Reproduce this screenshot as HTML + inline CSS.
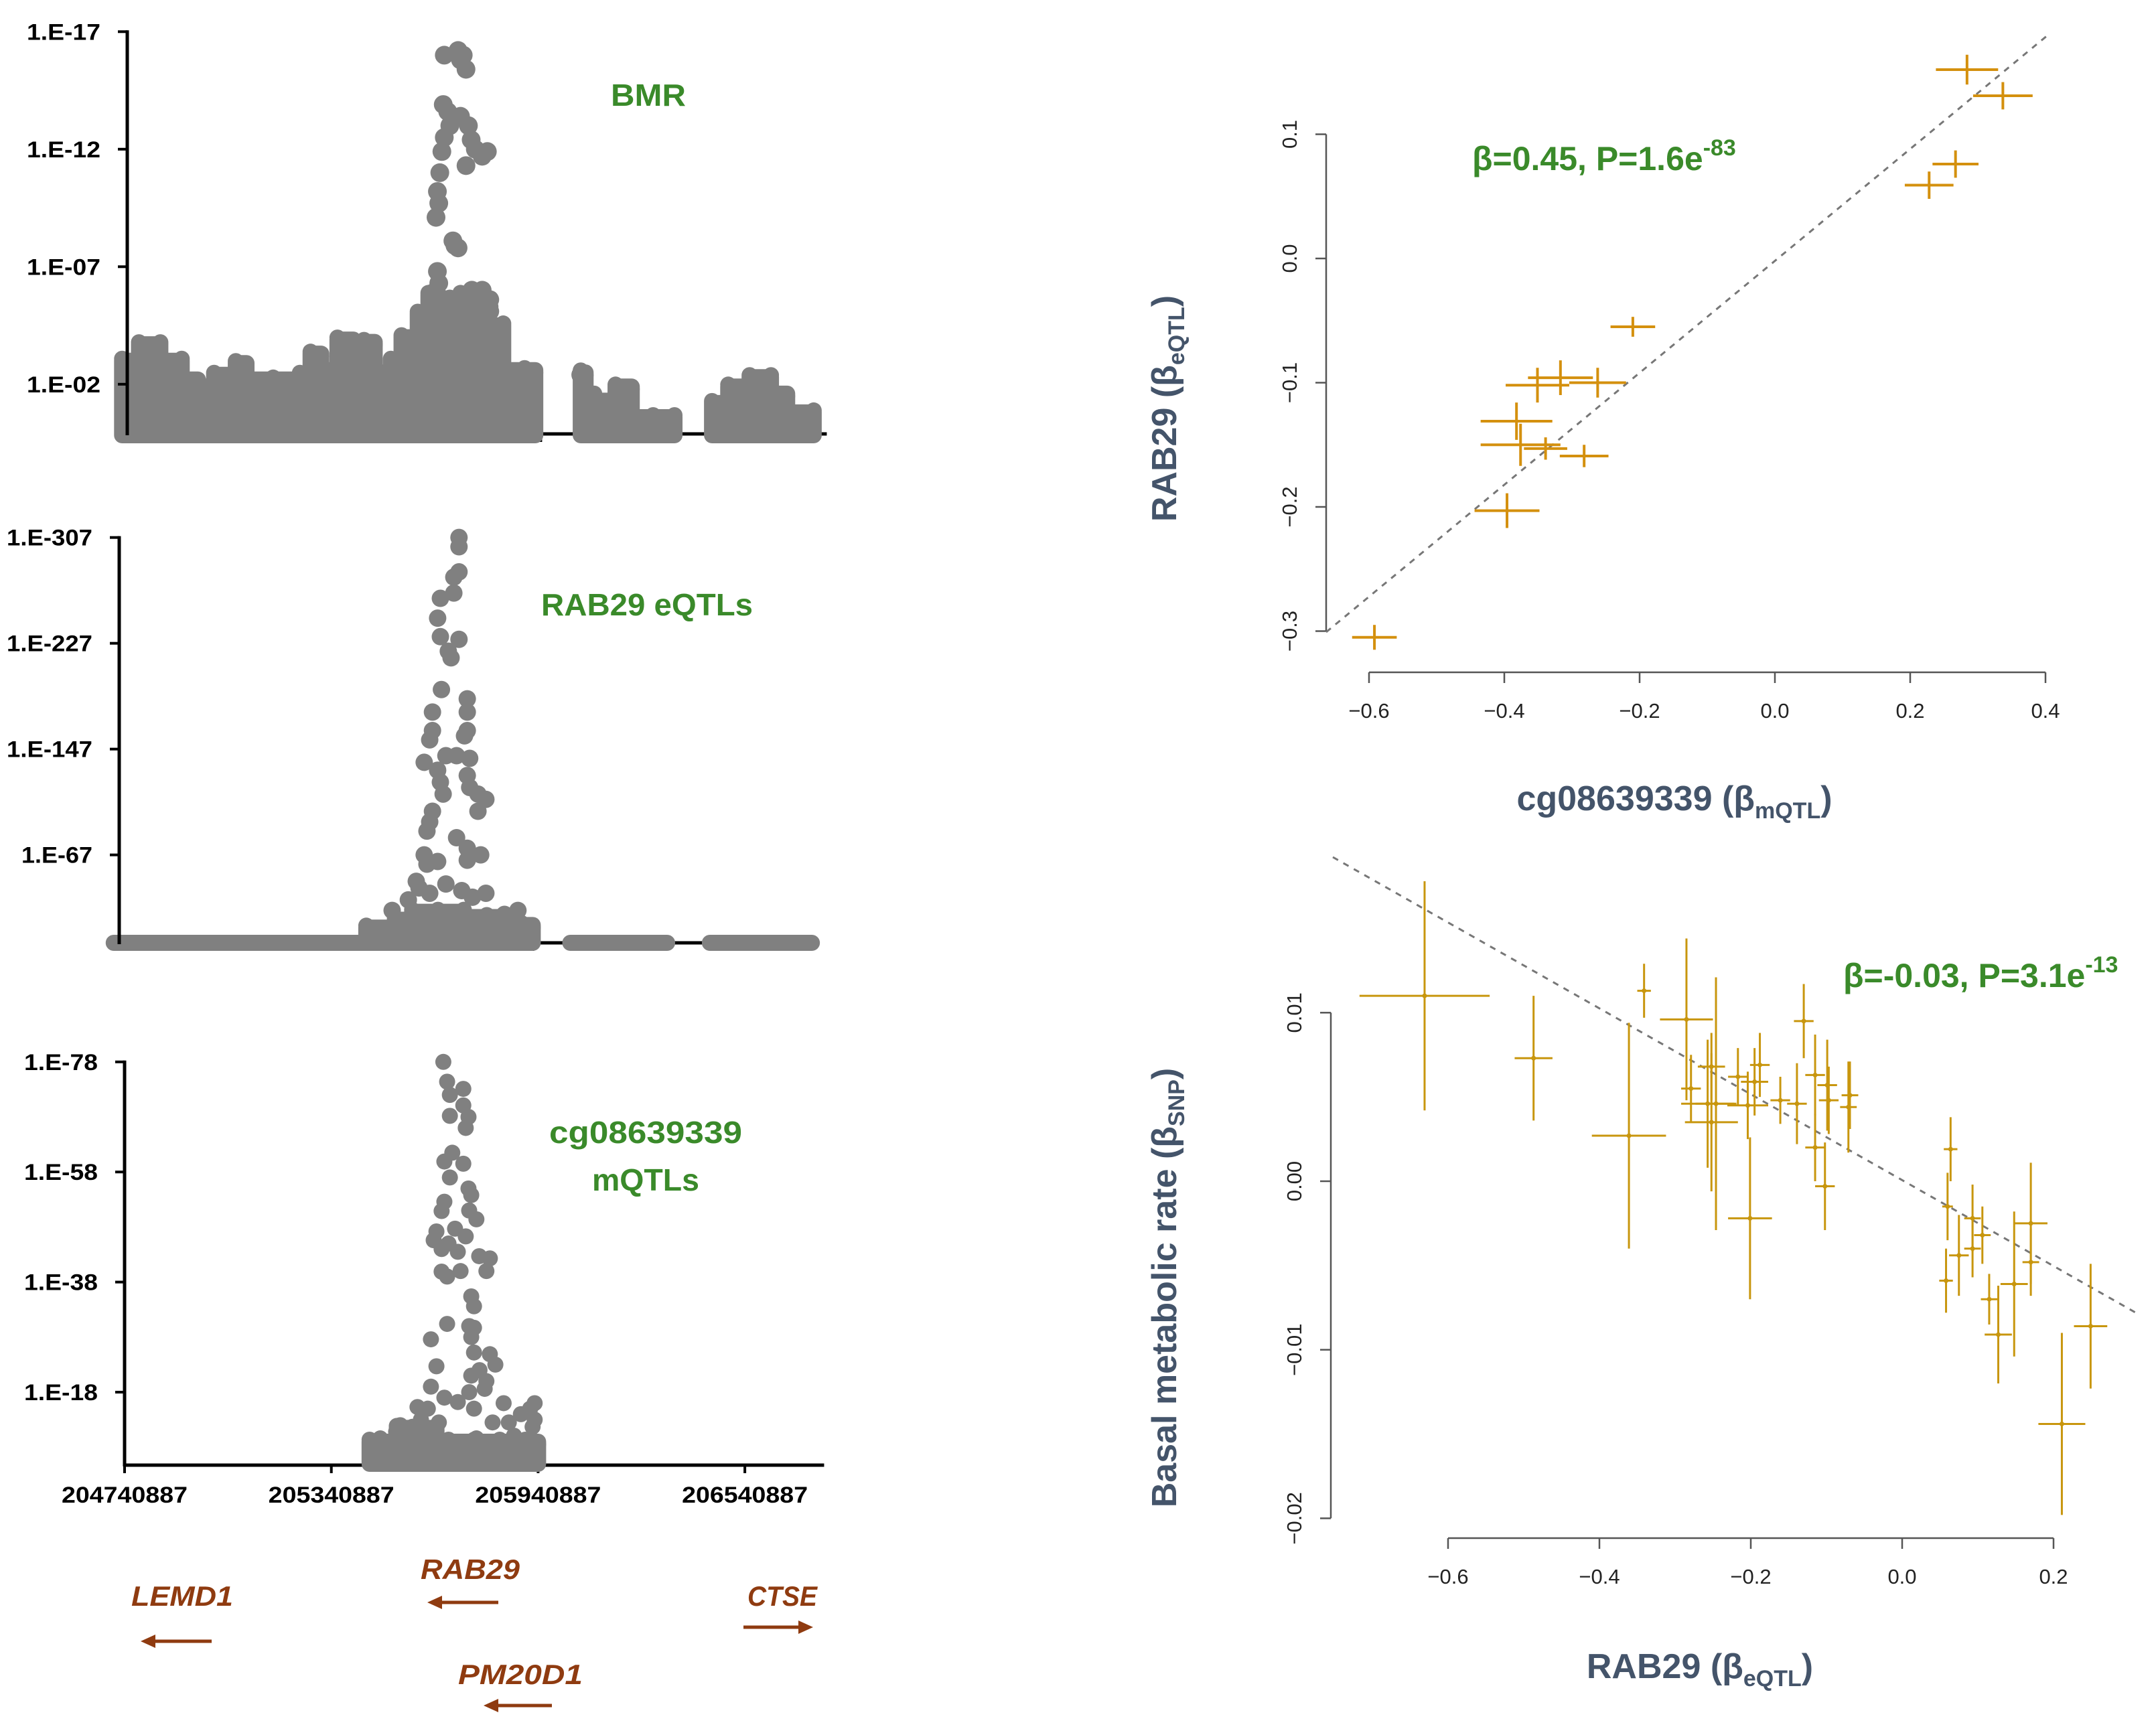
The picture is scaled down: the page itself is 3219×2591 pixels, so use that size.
<!DOCTYPE html>
<html><head><meta charset="utf-8"><style>
html,body{margin:0;padding:0;background:#fff;}
svg{display:block;}
text{font-family:"Liberation Sans",sans-serif;}
</style></head><body>
<svg id="fig" xmlns="http://www.w3.org/2000/svg" width="3219" height="2591" viewBox="0 0 3219 2591">
<rect width="3219" height="2591" fill="#fff"/>
<g><text x="968" y="158" text-anchor="middle" font-size="46" font-weight="bold" fill="#3a8a2a" textLength="112" lengthAdjust="spacingAndGlyphs">BMR</text></g>
<g><text x="966" y="919" text-anchor="middle" font-size="46" font-weight="bold" fill="#3a8a2a" textLength="316" lengthAdjust="spacingAndGlyphs">RAB29 eQTLs</text></g>
<g><text x="964" y="1707" text-anchor="middle" font-size="46" font-weight="bold" fill="#3a8a2a" textLength="288" lengthAdjust="spacingAndGlyphs">cg08639339</text><text x="964" y="1778" text-anchor="middle" font-size="46" font-weight="bold" fill="#3a8a2a" textLength="160" lengthAdjust="spacingAndGlyphs">mQTLs</text></g>

<g fill="#8f3b10" font-style="italic" font-weight="bold" font-size="42">
<text x="272" y="2398" text-anchor="middle" textLength="152" lengthAdjust="spacingAndGlyphs">LEMD1</text>
<text x="702" y="2358" text-anchor="middle" textLength="148" lengthAdjust="spacingAndGlyphs">RAB29</text>
<text x="1168" y="2398" text-anchor="middle" textLength="104" lengthAdjust="spacingAndGlyphs">CTSE</text>
<text x="777" y="2515" text-anchor="middle" textLength="186" lengthAdjust="spacingAndGlyphs">PM20D1</text>
<g stroke="#8f3b10" stroke-width="5">
<line x1="228" y1="2451" x2="316" y2="2451"/><polygon points="210,2451 232,2441 232,2461" stroke="none"/>
<line x1="656" y1="2393" x2="744" y2="2393"/><polygon points="638,2393 660,2383 660,2403" stroke="none"/>
<line x1="740" y1="2547" x2="824" y2="2547"/><polygon points="722,2547 744,2537 744,2557" stroke="none"/>
<line x1="1110" y1="2430" x2="1196" y2="2430"/><polygon points="1214,2430 1192,2420 1192,2440" stroke="none"/>
</g></g>
</svg>
<script>
const p1Ticks = [17, 12, 7, 2];
const p1TickLabels = ["1.E-17", "1.E-12", "1.E-07", "1.E-02"];
const p1Bands = [[-15,34,3.0],[34,96,3.7],[96,158,3.0],[158,205,2.2],[205,252,1.9],[252,315,2.4],[315,346,2.9],[346,501,2.2],[501,532,2.4],[532,563,3.3],[563,610,2.6],[610,656,3.9],[656,687,2.0],[687,718,3.8],[718,765,2.5],[765,796,3.0],[796,843,4.0],[843,874,5.0],[874,905,5.8],[905,936,3.5],[936,967,5.6],[967,1029,5.8],[1029,1091,4.5],[1091,1184,2.6],[1316,1330,2.5],[1330,1355,1.6],[1355,1417,1.3],[1417,1464,1.9],[1464,1588,0.6],[1697,1744,1.2],[1744,1806,1.9],[1806,1868,2.3],[1868,1915,1.6],[1915,1992,0.8]];
const p1Points = [[920,16.0],[967,15.8],[983,15.4],[917,13.9],[967,13.4],[936,13.0],[920,12.5],[998,12.4],[1045,11.9],[913,11.9],[983,11.3],[907,11.0],[904,9.7],[896,9.1],[951,7.9],[904,6.3],[889,5.9],[998,5.5],[1052,5.6],[1052,5.1],[1021,4.3],[904,5.1],[960,16.2],[975,16.0],[930,13.6],[990,13.0],[1010,12.0],[1030,11.7],[900,10.2],[945,8.1],[960,7.8],[900,6.8],[1000,6.0],[1030,6.0],[1050,5.3],[1316,2.4]];

const p2Ticks = [307, 227, 147, 67];
const p2TickLabels = ["1.E-307", "1.E-227", "1.E-147", "1.E-67"];
const p2Bands = [[-16,717,0],[717,800,12],[800,850,18],[850,1000,24],[1000,1100,20],[1100,1200,14],[1309,1590,0],[1714,2010,0]];
const p2Points = [[986,307],[986,300],[986,281],[971,277],[971,265],[932,261],[924,246],[932,232],[986,230],[955,221],[963,216],[935,192],[1010,185],[1010,175],[909,175],[909,161],[1010,161],[901,154],[1002,157],[979,142],[948,142],[885,137],[1017,140],[924,131],[1010,127],[932,122],[1017,118],[940,113],[1041,113],[1064,109],[1041,100],[909,100],[901,92],[893,85],[979,80],[1010,72],[1049,67],[1010,63],[885,67],[893,60],[924,62],[862,47],[948,45],[994,40],[1064,38],[839,33],[792,25],[901,38],[1025,35],[1157,25],[1118,22],[870,42]];

const p3Ticks = [78, 58, 38, 18];
const p3TickLabels = ["1.E-78", "1.E-58", "1.E-38", "1.E-18"];
const p3Bands = [[711,790,9],[790,905,11.5],[905,940,7],[940,1200,9]];
const p3Points = [[925,78.0],[936,74.4],[983,73.1],[983,70.1],[944,68.2],[998,68.0],[951,61.5],[928,59.9],[983,59.5],[998,55.0],[1006,53.8],[928,52.6],[920,50.9],[1021,49.4],[905,47.2],[959,47.7],[990,46.3],[897,45.6],[967,43.5],[1029,42.7],[1060,42.3],[920,39.9],[936,39.0],[1006,35.4],[1014,33.6],[936,30.4],[1014,29.7],[889,27.6],[1006,28.0],[1014,25.2],[1060,24.9],[1076,23.0],[905,22.7],[1006,21.0],[1045,18.6],[889,19.0],[967,16.2],[928,17.0],[850,15.3],[1014,15.0],[1177,15.0],[1115,12.5],[1068,12.5],[1184,11.7],[912,12.5],[835,11.7],[788,10.8],[742,9.6],[1130,10.1],[1021,9.6],[1184,9.2],[944,72],[990,66],[944,57],[1000,51],[940,45],[920,44],[975,40],[1050,40],[1000,30],[1030,22],[1050,20],[1000,18],[1100,16],[1150,14],[1190,13],[1190,16],[880,15],[860,13],[800,12]];
const xTickKb = [0, 600, 1200, 1800];
const xTickLabels = ["204740887", "205340887", "205940887", "206540887"];

const trX = [0.284,0.337,0.267,0.228,-0.21,-0.351,-0.317,-0.262,-0.382,-0.376,-0.339,-0.282,-0.396,-0.592];
const trY = [0.152,0.131,0.076,0.059,-0.055,-0.102,-0.096,-0.100,-0.131,-0.150,-0.153,-0.159,-0.203,-0.305];
const trXerr = [0.046,0.044,0.034,0.036,0.033,0.047,0.048,0.042,0.053,0.059,0.032,0.036,0.048,0.033];
const trYerr = [0.012,0.011,0.011,0.011,0.008,0.014,0.014,0.012,0.015,0.017,0.009,0.009,0.014,0.010];
const trXTicks = [-0.6,-0.4,-0.2,0.0,0.2,0.4];
const trXTickLabels = ["\u22120.6","\u22120.4","\u22120.2","0.0","0.2","0.4"];
const trYTicks = [0.1,0.0,-0.1,-0.2,-0.3];
const trYTickLabels = ["0.1","0.0","\u22120.1","\u22120.2","\u22120.3"];

const brX = [-0.631,-0.487,-0.341,-0.361,-0.285,-0.279,-0.257,-0.252,-0.252,-0.246,-0.217,-0.204,-0.201,-0.195,-0.188,-0.161,-0.139,-0.130,-0.115,-0.115,-0.102,-0.099,-0.097,-0.071,-0.069,0.064,0.060,0.058,0.075,0.093,0.093,0.106,0.115,0.127,0.148,0.170,0.170,0.211,0.249];
const brY = [0.0110,0.0073,0.0113,0.0027,0.0096,0.0055,0.0046,0.0068,0.0035,0.0046,0.0062,0.0045,-0.0022,0.0059,0.0069,0.0048,0.0046,0.0095,0.0063,0.0020,-0.0003,0.0057,0.0048,0.0044,0.0051,0.0019,-0.0015,-0.0059,-0.0044,-0.0022,-0.0040,-0.0032,-0.0070,-0.0091,-0.0061,-0.0025,-0.0048,-0.0144,-0.0086];
const brXerr = [0.086,0.025,0.009,0.049,0.035,0.013,0.035,0.018,0.035,0.027,0.013,0.027,0.029,0.018,0.013,0.013,0.013,0.013,0.013,0.013,0.013,0.013,0.013,0.011,0.011,0.009,0.007,0.009,0.013,0.011,0.011,0.011,0.011,0.018,0.018,0.022,0.011,0.031,0.022];
const brYerr = [0.0068,0.0037,0.0016,0.0067,0.0048,0.0020,0.0038,0.0020,0.0041,0.0075,0.0017,0.0020,0.0048,0.0020,0.0019,0.0014,0.0024,0.0022,0.0024,0.0020,0.0026,0.0027,0.0020,0.0027,0.0020,0.0019,0.0020,0.0019,0.0024,0.0020,0.0017,0.0017,0.0015,0.0029,0.0043,0.0036,0.0020,0.0054,0.0037];
const brXTicks = [-0.6,-0.4,-0.2,0.0,0.2];
const brXTickLabels = ["\u22120.6","\u22120.4","\u22120.2","0.0","0.2"];
const brYTicks = [0.01,0.00,-0.01,-0.02];
const brYTickLabels = ["0.01","0.00","\u22120.01","\u22120.02"];

const NS = "http://www.w3.org/2000/svg";
const svg = document.getElementById("fig");
function mk(tag, attrs, parent) {
  const e = document.createElementNS(NS, tag);
  for (const k in attrs) e.setAttribute(k, attrs[k]);
  (parent || svg).appendChild(e);
  return e;
}

function manhattan(cfg) {
  const g = mk("g", {});
  
  
  const xs = kb => cfg.x0 + kb * 0.5145;
  const ys = v => cfg.yRef - (v - cfg.vRef) * cfg.ppu;
  const r = cfg.r;
  const base = mk("line", {x1: cfg.x0, y1: cfg.baseY, x2: cfg.x0 + 2030*0.5145, y2: cfg.baseY, stroke: "#000", "stroke-width": 5}, g);
  
  
  xTickKb.forEach(k => {
    const t = mk("line", {x1: xs(k), y1: cfg.baseY, x2: xs(k), y2: cfg.baseY + 12, stroke: "#000", "stroke-width": 4}, g);
    
    
  });
  const dg = mk("g", {fill: "#808080"}, g);
  
  
  cfg.bands.forEach(b => {
    const top = Math.min(ys(b[2]), cfg.dotBase);
    const x1 = xs(b[0]), x2 = xs(b[1]);
    const rc = mk("rect", {x: x1 - r, y: top - r, width: x2 - x1 + 2*r, height: cfg.dotBase - top + 2*r, rx: r, ry: r}, dg);
    
    
    if (top < cfg.dotBase - 4) {
      const n = Math.max(1, Math.round((x2 - x1) / 18));
      for (let j = 0; j <= n; j++) {
        const c = mk("circle", {cx: x1 + (x2 - x1) * j / n, cy: top + ((j % 2) ? 4 : -3), r: r}, dg);
        
        
      }
    }
  });
  cfg.points.forEach(p => {
    const c = mk("circle", {cx: xs(p[0]), cy: ys(p[1]), r: cfg.pr}, dg);
    
    
  });
  const ax = mk("line", {x1: cfg.x0, y1: ys(cfg.ticks[0]) - 2, x2: cfg.x0, y2: cfg.baseY + 2, stroke: "#000", "stroke-width": 5}, g);
  
  
  cfg.ticks.forEach((v, i) => {
    const t = mk("line", {x1: cfg.x0 - 14, y1: ys(v), x2: cfg.x0, y2: ys(v), stroke: "#000", "stroke-width": 4}, g);
    
    
    const tx = mk("text", {x: cfg.x0 - 40, y: ys(v) + 12, "text-anchor": "end", "font-size": 34, "font-weight": "bold", fill: "#000", textLength: cfg.labW[i], lengthAdjust: "spacingAndGlyphs"}, g);
    tx.textContent = cfg.labels[i];
    
    
  });
}
manhattan({name: "manhattan-bmr", x0: 190, yRef: 644, vRef: 0, ppu: 35.1, baseY: 648, dotBase: 650, r: 12, pr: 14, ticks: p1Ticks, labels: p1TickLabels, labW: [110,110,110,110], bands: p1Bands, points: p1Points});
manhattan({name: "manhattan-eqtl", x0: 178, yRef: 1409, vRef: 0, ppu: 1.975, baseY: 1408, dotBase: 1408, r: 12, pr: 13, ticks: p2Ticks, labels: p2TickLabels, labW: [128,128,128,106], bands: p2Bands, points: p2Points});
manhattan({name: "manhattan-mqtl", x0: 186, yRef: 2079, vRef: 18, ppu: 8.22, baseY: 2188, dotBase: 2186, r: 12, pr: 12, ticks: p3Ticks, labels: p3TickLabels, labW: [110,110,110,110], bands: p3Bands, points: p3Points});
xTickLabels.forEach((l, i) => {
  const t = mk("text", {x: 186 + xTickKb[i]*0.5145, y: 2244, "text-anchor": "middle", "font-size": 34, "font-weight": "bold", fill: "#000", textLength: 188, lengthAdjust: "spacingAndGlyphs"});
  t.textContent = l;
  
  
});

function scatter(cfg) {
  const g = mk("g", {});
  
  
  const xs = v => cfg.x0 + v * cfg.xk;
  const ys = v => cfg.y0 - v * cfg.yk;
  const xl = mk("line", {x1: xs(cfg.xt[0]), y1: cfg.axY, x2: xs(cfg.xt[cfg.xt.length-1]), y2: cfg.axY, stroke: "#555", "stroke-width": 2.5}, g);
  
  
  cfg.xt.forEach((v, i) => {
    const t = mk("line", {x1: xs(v), y1: cfg.axY, x2: xs(v), y2: cfg.axY + 16, stroke: "#555", "stroke-width": 2.5}, g);
    
    
    const tx = mk("text", {x: xs(v), y: cfg.axY + 68, "text-anchor": "middle", "font-size": 31, fill: "#222"}, g);
    tx.textContent = cfg.xtl[i];
    
    
  });
  const yl = mk("line", {x1: cfg.axX, y1: ys(cfg.yt[0]), x2: cfg.axX, y2: ys(cfg.yt[cfg.yt.length-1]), stroke: "#555", "stroke-width": 2.5}, g);
  
  
  cfg.yt.forEach((v, i) => {
    const t = mk("line", {x1: cfg.axX - 16, y1: ys(v), x2: cfg.axX, y2: ys(v), stroke: "#555", "stroke-width": 2.5}, g);
    
    
    const tx = mk("text", {x: 0, y: 0, "text-anchor": "middle", "font-size": 31, fill: "#222", transform: "translate(" + (cfg.axX - 44) + "," + ys(v) + ") rotate(-90)"}, g);
    tx.textContent = cfg.ytl[i];
    
    
  });
  const dl = mk("line", {x1: cfg.line[0], y1: cfg.line[1], x2: cfg.line[2], y2: cfg.line[3], stroke: "#777", "stroke-width": 3, "stroke-dasharray": "9,9"}, g);
  
  
  cfg.x.forEach((xv, i) => {
    const pg = mk("g", {stroke: cfg.color, "stroke-width": cfg.sw}, g);
    
    
    mk("line", {x1: xs(xv - cfg.xe[i]), y1: ys(cfg.y[i]), x2: xs(xv + cfg.xe[i]), y2: ys(cfg.y[i])}, pg);
    mk("line", {x1: xs(xv), y1: ys(cfg.y[i] - cfg.ye[i]), x2: xs(xv), y2: ys(cfg.y[i] + cfg.ye[i])}, pg);
    if (cfg.dot) mk("circle", {cx: xs(xv), cy: ys(cfg.y[i]), r: 3.5, fill: cfg.color, stroke: "none"}, pg);
  });
}
scatter({name: "scatter-mqtl-vs-eqtl", x0: 2650, xk: 1010, y0: 386, yk: 1855, axY: 1004, axX: 1980,
  xt: trXTicks, xtl: trXTickLabels, yt: trYTicks, ytl: trYTickLabels,
  x: trX, y: trY, xe: trXerr, ye: trYerr, color: "#d4900e", sw: 4, dot: false,
  line: [1980, 944, 3058, 52]});
scatter({name: "scatter-eqtl-vs-bmr", x0: 2840, xk: 1130, y0: 1764, yk: 25170, axY: 2297, axX: 1987,
  xt: brXTicks, xtl: brXTickLabels, yt: brYTicks, ytl: brYTickLabels,
  x: brX, y: brY, xe: brXerr, ye: brYerr, color: "#c8960e", sw: 3, dot: true,
  line: [1990, 1280, 3190, 1961]});

function txt(html, attrs, name) {
  const t = mk("text", attrs);
  t.innerHTML = html;
  
  
  return t;
}
txt('β=0.45, P=1.6e<tspan dy="-22" font-size="34">-83</tspan>', {x: 2198, y: 254, "font-size": 50, "font-weight": "bold", fill: "#3a8a2a"}, "stats-annotation-top");
txt('β=-0.03, P=3.1e<tspan dy="-22" font-size="34">-13</tspan>', {x: 2752, y: 1474, "font-size": 50, "font-weight": "bold", fill: "#3a8a2a"}, "stats-annotation-bottom");
txt('cg08639339 (β<tspan dy="12" font-size="34">mQTL</tspan><tspan dy="-12">)</tspan>', {x: 2500, y: 1210, "text-anchor": "middle", "font-size": 52, "font-weight": "bold", fill: "#44546a"}, "x-axis-title-top");
txt('RAB29 (β<tspan dy="12" font-size="34">eQTL</tspan><tspan dy="-12">)</tspan>', {x: 0, y: 0, "text-anchor": "middle", "font-size": 52, "font-weight": "bold", fill: "#44546a", transform: "translate(1756,610) rotate(-90)"}, "y-axis-title-top");
txt('RAB29 (β<tspan dy="12" font-size="34">eQTL</tspan><tspan dy="-12">)</tspan>', {x: 2538, y: 2506, "text-anchor": "middle", "font-size": 52, "font-weight": "bold", fill: "#44546a"}, "x-axis-title-bottom");
txt('Basal metabolic rate (β<tspan dy="12" font-size="34">SNP</tspan><tspan dy="-12">)</tspan>', {x: 0, y: 0, "text-anchor": "middle", "font-size": 52, "font-weight": "bold", fill: "#44546a", transform: "translate(1756,1923) rotate(-90)"}, "y-axis-title-bottom");
</script>
</body></html>
